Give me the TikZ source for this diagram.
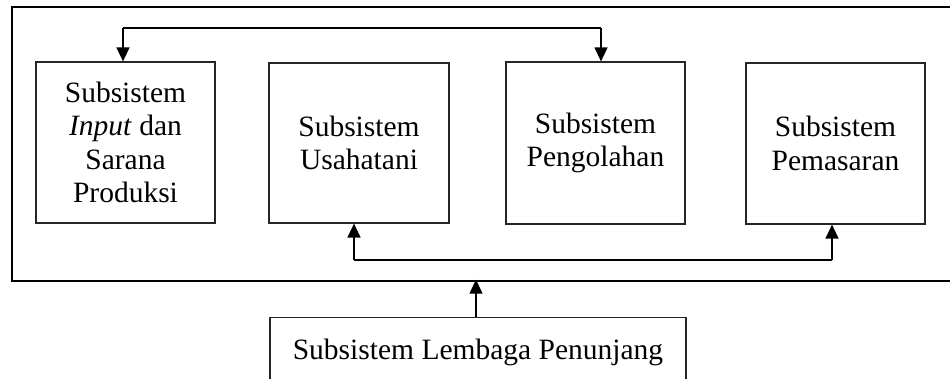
\documentclass[tikz,border=0pt]{standalone}
\usepackage{fontspec}
\setmainfont{Liberation Serif}
\usetikzlibrary{arrows.meta}
\begin{document}
\begin{tikzpicture}[x=1pt,y=-1pt,
  sub/.style={draw=black!85,line width=1.2pt,minimum width=179pt,minimum height=161pt,align=center,inner sep=0pt,
    font=\fontsize{29.5}{33.5}\selectfont},
  conn/.style={line width=1.3pt,-{Triangle[width=13pt,length=14pt]}},
  plain/.style={line width=1.3pt}]
\useasboundingbox (0,0) rectangle (950,379);
\draw[line width=2.6pt] (960,7) -- (12,7) -- (12,281) -- (960,281);
\node[sub] (a) at (125.5,142.5) {Subsistem\\\textit{Input} dan\\Sarana\\Produksi};
\node[sub,minimum width=180pt,minimum height=160pt] (b) at (359,143) {Subsistem\\Usahatani};
\node[sub,minimum height=162pt] (c) at (595.5,143) {Subsistem\\Pengolahan};
\node[sub] (d) at (835.5,143.5) {Subsistem\\Pemasaran};
\node[draw=black!85,line width=1.2pt,minimum width=416pt,minimum height=100pt,anchor=north,inner sep=0pt,
  font=\fontsize{29.5}{33.5}\selectfont,text depth=0pt] (e) at (478,317) {};
\node[font=\fontsize{29.5}{33.5}\selectfont] (et) at (478,352) {Subsistem Lembaga Penunjang};
\coordinate (t1) at (123,28);
\coordinate (t2) at (601,28);
\coordinate (b1) at (354,260);
\coordinate (b2) at (832,260);
\coordinate (o) at (476,281);
\draw[plain] (t1) -- (t2);
\draw[conn] (t1) -- (t1 |- a.north);
\draw[conn] (t2) -- (t2 |- c.north);
\draw[plain] (b1) -- (b2);
\draw[conn] (b1) -- (b1 |- b.south);
\draw[conn] (b2) -- (b2 |- d.south);
\draw[conn] (o |- e.north) -- ([yshift=1.3pt]o);
\end{tikzpicture}
\end{document}
